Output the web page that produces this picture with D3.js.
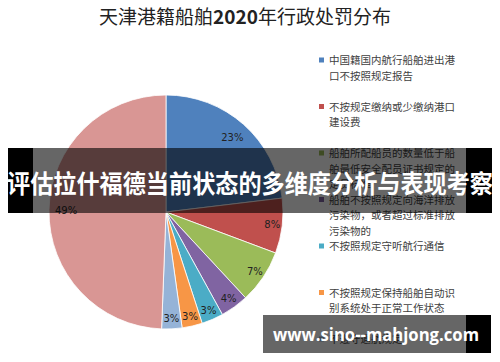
<!DOCTYPE html>
<html>
<head>
<meta charset="utf-8">
<script src="https://cdn.jsdelivr.net/npm/d3@7"></script>
<style>
  body { margin: 0; background: #fff; }
  svg { display: block; }
</style>
</head>
<body>
<div id="chart"></div>
<script>
// data
var categories = [
    "中国籍国内航行船舶进出港口不按照规定报告",
    "不按规定缴纳或少缴纳港口建设费",
    "船舶所配船员的数量低于船舶最低安全配员证书规定的定员标准",
    "船舶不按照规定向海洋排放污染物，或者超过标准排放污染物的",
    "不按照规定守听航行通信",
    "不按照规定保持船舶自动识别系统处于正常工作状态",
    "不遵守通航规定",
    "其他"
];
// legend lines as they wrap in the picture
var legendLines = [
    ["中国籍国内航行船舶进出港", "口不按照规定报告"],
    ["不按规定缴纳或少缴纳港口", "建设费"],
    ["船舶所配船员的数量低于船", "舶最低安全配员证书规定的", "定员标准"],
    ["船舶不按照规定向海洋排放", "污染物，或者超过标准排放", "污染物的"],
    ["不按照规定守听航行通信"],
    ["不按照规定保持船舶自动识", "别系统处于正常工作状态"],
    ["不遵守通航规定"],
    ["其他"]
];
var shares = [23.1, 7.6, 7.4, 3.9, 3.0, 2.8, 2.8, 49.4];
var colors = ["#4F81BD", "#C0504D", "#9BBB59", "#8064A2", "#4BACC6", "#F79646", "#95B3D7", "#D99694"];

var title = "天津港籍船舶";
var titleYear = "2020";
var titleRest = "年行政处罚分布";
var bannerText = "评估拉什福德当前状态的多维度分析与表现考察";
var watermark = "www.sino--mahjong.com";

var svgWidth = 500;
var svgHeight = 362;

var svg = d3.select("#chart")
    .append("svg")
    .attr("width", svgWidth)
    .attr("height", svgHeight);

// title
var titleText = svg.append("text")
    .attr("x", 245)
    .attr("y", 24)
    .attr("text-anchor", "middle")
    .style("font-family", "'Noto Sans CJK SC', sans-serif")
    .style("font-size", "19px")
    .style("fill", "#222");
titleText.append("tspan").text(title);
titleText.append("tspan").style("font-weight", "bold").text(titleYear);
titleText.append("tspan").text(titleRest);

// pie
var radius = 117;
var pieGroup = svg.append("g")
    .attr("transform", "translate(166, 212)");

var pie = d3.pie().sort(null).value(d => d);
var arc = d3.arc().innerRadius(0).outerRadius(radius);
var arcs = pie(shares);

pieGroup.selectAll("path")
    .data(arcs)
    .enter()
    .append("path")
    .attr("d", arc)
    .attr("fill", (d, i) => colors[i])
    .attr("stroke", "#fff")
    .attr("stroke-width", 0.8);

// percentage labels, big slices a bit further in
var labelArcBig = d3.arc().innerRadius(100).outerRadius(100);
var labelArcSmall = d3.arc().innerRadius(107).outerRadius(107);

pieGroup.selectAll("text.pct")
    .data(arcs)
    .enter()
    .append("text")
    .attr("class", "pct")
    .attr("transform", d => {
        var c = (d.data > 10 ? labelArcBig : labelArcSmall).centroid(d);
        return `translate(${c[0]}, ${c[1]})`;
    })
    .attr("text-anchor", "middle")
    .attr("dy", "0.35em")
    .style("font-family", "'DejaVu Sans', sans-serif")
    .style("font-size", "10px")
    .style("fill", "#222")
    .text(d => Math.round(d.data) + "%");

// legend (entries below the bottom edge are cut off like in the picture)
var legendY = d3.scaleLinear()
    .domain([0, categories.length - 1])
    .range([60, 60 + 46.5 * (categories.length - 1)]);

var visible = categories.map((d, i) => i).filter(i => legendY(i) < svgHeight);

var legend = svg.append("g");

var items = legend.selectAll("g")
    .data(visible)
    .enter()
    .append("g")
    .attr("transform", i => `translate(319, ${legendY(i)})`);

items.append("rect")
    .attr("x", 0)
    .attr("y", -2.5)
    .attr("width", 5)
    .attr("height", 5)
    .attr("fill", i => colors[i]);

items.append("text")
    .attr("x", 10)
    .attr("y", 4)
    .style("font-family", "'Noto Sans CJK SC', sans-serif")
    .style("font-size", "10.5px")
    .style("fill", "#404040")
    .selectAll("tspan")
    .data(i => legendLines[i])
    .enter()
    .append("tspan")
    .attr("x", 10)
    .attr("dy", (d, j) => j === 0 ? 0 : 15.5)
    .text(d => d);

// banner overlay
var banner = svg.append("g");
banner.append("rect")
    .attr("x", 8).attr("y", 148)
    .attr("width", 484).attr("height", 65)
    .attr("fill", "rgba(0,0,0,0.6)");
banner.append("rect")
    .attr("x", 8).attr("y", 148)
    .attr("width", 25).attr("height", 65)
    .attr("fill", "#000");
banner.append("rect")
    .attr("x", 466).attr("y", 148)
    .attr("width", 26).attr("height", 65)
    .attr("fill", "#000");
banner.append("text")
    .attr("x", 250)
    .attr("y", 193)
    .attr("text-anchor", "middle")
    .attr("textLength", 486)
    .attr("lengthAdjust", "spacingAndGlyphs")
    .style("font-family", "'Noto Sans CJK SC', sans-serif")
    .style("font-weight", "bold")
    .style("font-size", "24.5px")
    .style("fill", "#fff")
    .text(bannerText);

// watermark
var mark = svg.append("g");
mark.append("rect")
    .attr("x", 263).attr("y", 315)
    .attr("width", 228).attr("height", 38)
    .attr("fill", "rgba(0,0,0,0.6)");
mark.append("rect")
    .attr("x", 466).attr("y", 315)
    .attr("width", 25).attr("height", 38)
    .attr("fill", "#000");
mark.append("text")
    .attr("x", 273)
    .attr("y", 341)
    .attr("textLength", 206)
    .attr("lengthAdjust", "spacingAndGlyphs")
    .style("font-family", "'Open Sans', sans-serif")
    .style("font-weight", "bold")
    .style("font-size", "18px")
    .style("fill", "#fff")
    .text(watermark);
</script>
</body>
</html>
